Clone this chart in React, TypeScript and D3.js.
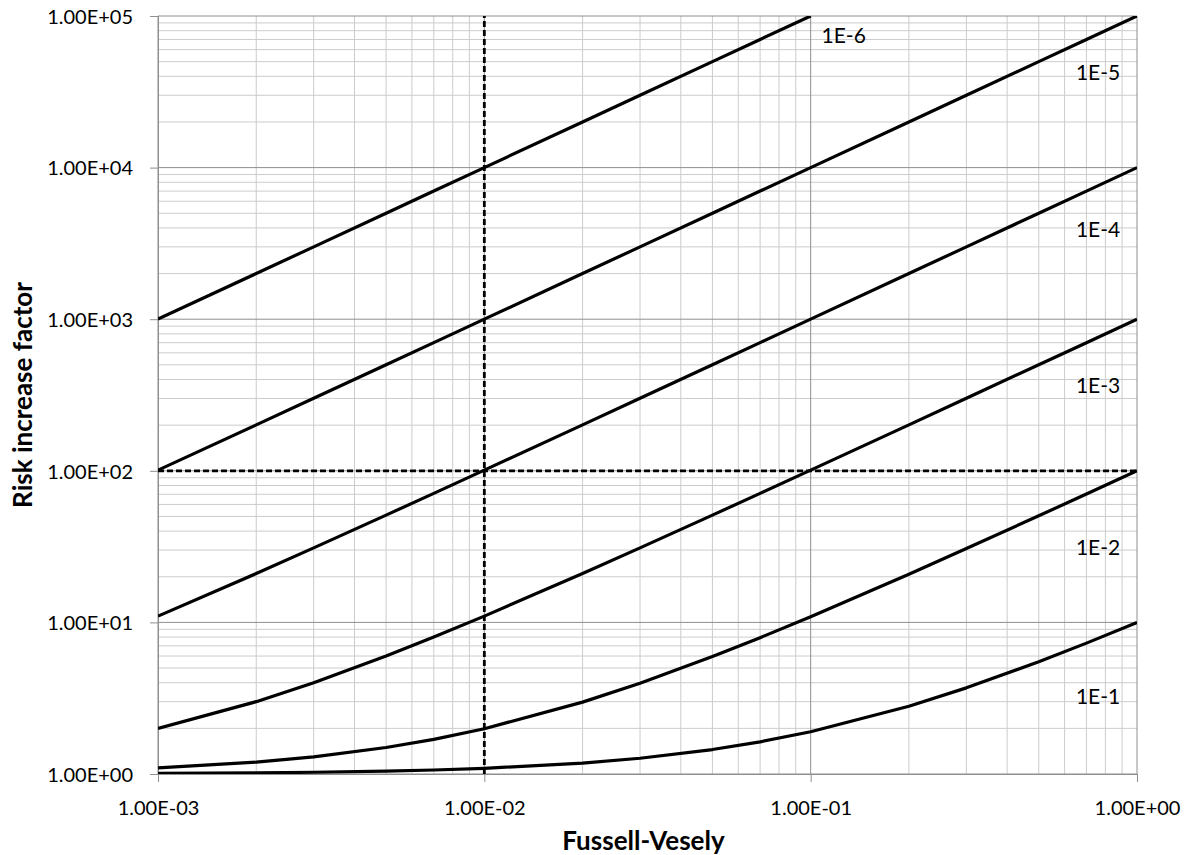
import React, { useEffect, useRef } from 'react';
import * as d3 from 'd3';

// Fussell-Vesely values (x) where each curve was sampled
const fvValues = [0.001, 0.002, 0.003, 0.005, 0.007, 0.01, 0.02, 0.03, 0.05, 0.07, 0.1, 0.2, 0.3, 0.5, 0.7, 1];

// Risk increase factor read for each curve
const rif1e1 = [1.009, 1.018, 1.027, 1.045, 1.063, 1.09, 1.18, 1.27, 1.45, 1.63, 1.9, 2.8, 3.7, 5.5, 7.3, 10];
const rif1e2 = [1.099, 1.198, 1.297, 1.495, 1.693, 1.99, 2.98, 3.97, 5.95, 7.93, 10.9, 20.8, 30.7, 50.5, 70.3, 100];
const rif1e3 = [2, 3, 4, 6, 8, 11, 21, 31, 51, 71, 101, 201, 301, 501, 700, 1000];
const rif1e4 = [11, 21, 31, 51, 71, 101, 201, 301, 501, 701, 1001, 2001, 3001, 5001, 7000, 10000];
const rif1e5 = [101, 201, 301, 501, 701, 1001, 2001, 3001, 5001, 7001, 10001, 20001, 30001, 50001, 70000, 100000];
const rif1e6 = [1001, 2001, 3001, 5001, 7001, 10001, 20001, 30001, 50001, 70001, 100000];

const curveNames = ['1E-1', '1E-2', '1E-3', '1E-4', '1E-5', '1E-6'];
const curveValues = [rif1e1, rif1e2, rif1e3, rif1e4, rif1e5, rif1e6];
// where the curve label sits: [x value, y value]
const labelAnchors = [[0.65, 3.27], [0.65, 31], [0.65, 368], [0.65, 3880], [0.65, 42700], [0.108, 75000]];

const xTicks = [0.001, 0.01, 0.1, 1];
const xTickLabels = ['1.00E-03', '1.00E-02', '1.00E-01', '1.00E+00'];
const yTicks = [1, 10, 100, 1000, 10000, 100000];
const yTickLabels = ['1.00E+00', '1.00E+01', '1.00E+02', '1.00E+03', '1.00E+04', '1.00E+05'];

// reference lines
const refFv = 0.01;
const refRif = 100;

const FONT = 'Lato, "Open Sans", sans-serif';

function App() {
	const chartRef = useRef(null);

	useEffect(() => {
		const width = 1186;
		const height = 855;
		const margin = { left: 158, top: 16, right: 49, bottom: 81 };

		const root = d3.select(chartRef.current);
		root.selectAll('*').remove();

		const svg = root.append('svg')
			.attr('width', width)
			.attr('height', height)
			.style('position', 'absolute')
			.style('left', 0)
			.style('top', 0)
			.style('background', '#fff');

		const x = d3.scaleLog().domain([0.001, 1]).range([margin.left, width - margin.right]);
		const y = d3.scaleLog().domain([1, 100000]).range([height - margin.bottom, margin.top]);

		// minor + major grid
		const minorX = [];
		const minorY = [];
		for (let d = 0.001; d < 1; d *= 10) {
			for (let k = 2; k <= 9; k++) minorX.push(d * k);
		}
		for (let d = 1; d < 100000; d *= 10) {
			for (let k = 2; k <= 9; k++) minorY.push(d * k);
		}

		const grid = svg.append('g');
		grid.selectAll('.minor-x').data(minorX).enter().append('line')
			.attr('x1', d => x(d)).attr('x2', d => x(d))
			.attr('y1', y(1)).attr('y2', y(100000))
			.attr('stroke', '#cccccc').attr('stroke-width', 1);
		grid.selectAll('.minor-y').data(minorY).enter().append('line')
			.attr('x1', x(0.001)).attr('x2', x(1))
			.attr('y1', d => y(d)).attr('y2', d => y(d))
			.attr('stroke', '#cccccc').attr('stroke-width', 1);
		grid.selectAll('.major-x').data(xTicks).enter().append('line')
			.attr('x1', d => x(d)).attr('x2', d => x(d))
			.attr('y1', y(1)).attr('y2', y(100000))
			.attr('stroke', '#8f8f8f').attr('stroke-width', 1);
		grid.selectAll('.major-y').data(yTicks).enter().append('line')
			.attr('x1', x(0.001)).attr('x2', x(1))
			.attr('y1', d => y(d)).attr('y2', d => y(d))
			.attr('stroke', '#8f8f8f').attr('stroke-width', 1);

		// axes
		const xAxis = d3.axisBottom(x).tickValues(xTicks)
			.tickFormat((d, i) => xTickLabels[i]).tickSize(8).tickPadding(19);
		const yAxis = d3.axisLeft(y).tickValues(yTicks)
			.tickFormat((d, i) => yTickLabels[i]).tickSize(8).tickPadding(17);

		const xg = svg.append('g').attr('transform', `translate(0,${y(1)})`).call(xAxis);
		const yg = svg.append('g').attr('transform', `translate(${x(0.001)},0)`).call(yAxis);
		[xg, yg].forEach(g => {
			g.select('.domain').attr('stroke', '#8f8f8f');
			g.selectAll('.tick line').attr('stroke', '#8f8f8f');
			g.selectAll('.tick text')
				.attr('fill', '#000')
				.style('font-family', FONT)
				.style('font-size', '20px');
		});
		yg.selectAll('.tick text').attr('dy', '0.36em');

		// clip to plot area
		svg.append('clipPath').attr('id', 'plot-clip')
			.append('rect')
			.attr('x', x(0.001)).attr('y', y(100000))
			.attr('width', x(1) - x(0.001)).attr('height', y(1) - y(100000));

		const plot = svg.append('g').attr('clip-path', 'url(#plot-clip)');

		// dashed reference lines
		plot.append('line')
			.attr('x1', x(refFv)).attr('x2', x(refFv))
			.attr('y1', y(1)).attr('y2', y(100000))
			.attr('stroke', '#000').attr('stroke-width', 2.8)
			.attr('stroke-dasharray', '6,3');
		plot.append('line')
			.attr('x1', x(0.001)).attr('x2', x(1))
			.attr('y1', y(refRif)).attr('y2', y(refRif))
			.attr('stroke', '#000').attr('stroke-width', 2.8)
			.attr('stroke-dasharray', '6,3');

		const line = d3.line()
			.x(d => x(d[0]))
			.y(d => y(d[1]));

		curveValues.forEach(vals => {
			const pts = vals.map((v, i) => [fvValues[i], v]);
			plot.append('path')
				.attr('d', line(pts))
				.attr('fill', 'none')
				.attr('stroke', '#000')
				.attr('stroke-width', 3.2)
				.attr('stroke-linejoin', 'round');
		});

		// curve labels
		svg.selectAll('.curve-label').data(curveNames).enter().append('text')
			.attr('x', (d, i) => x(labelAnchors[i][0]))
			.attr('y', (d, i) => y(labelAnchors[i][1]))
			.attr('dy', '0.36em')
			.style('font-family', FONT)
			.style('font-size', '21px')
			.attr('fill', '#000')
			.text(d => d);

		// axis titles
		svg.append('text')
			.attr('x', (x(0.001) + x(1)) / 2 - 4)
			.attr('y', 841)
			.attr('text-anchor', 'middle')
			.attr('dy', '0.36em')
			.style('font-family', FONT)
			.style('font-weight', 'bold')
			.style('font-size', '26px')
			.text('Fussell-Vesely');

		svg.append('text')
			.attr('transform', `translate(23,${(y(1) + y(100000)) / 2}) rotate(-90)`)
			.attr('text-anchor', 'middle')
			.attr('dy', '0.36em')
			.style('font-family', FONT)
			.style('font-weight', 'bold')
			.style('font-size', '26px')
			.text('Risk increase factor');
	}, []);

	return <div ref={chartRef} />;
}

export default App;
